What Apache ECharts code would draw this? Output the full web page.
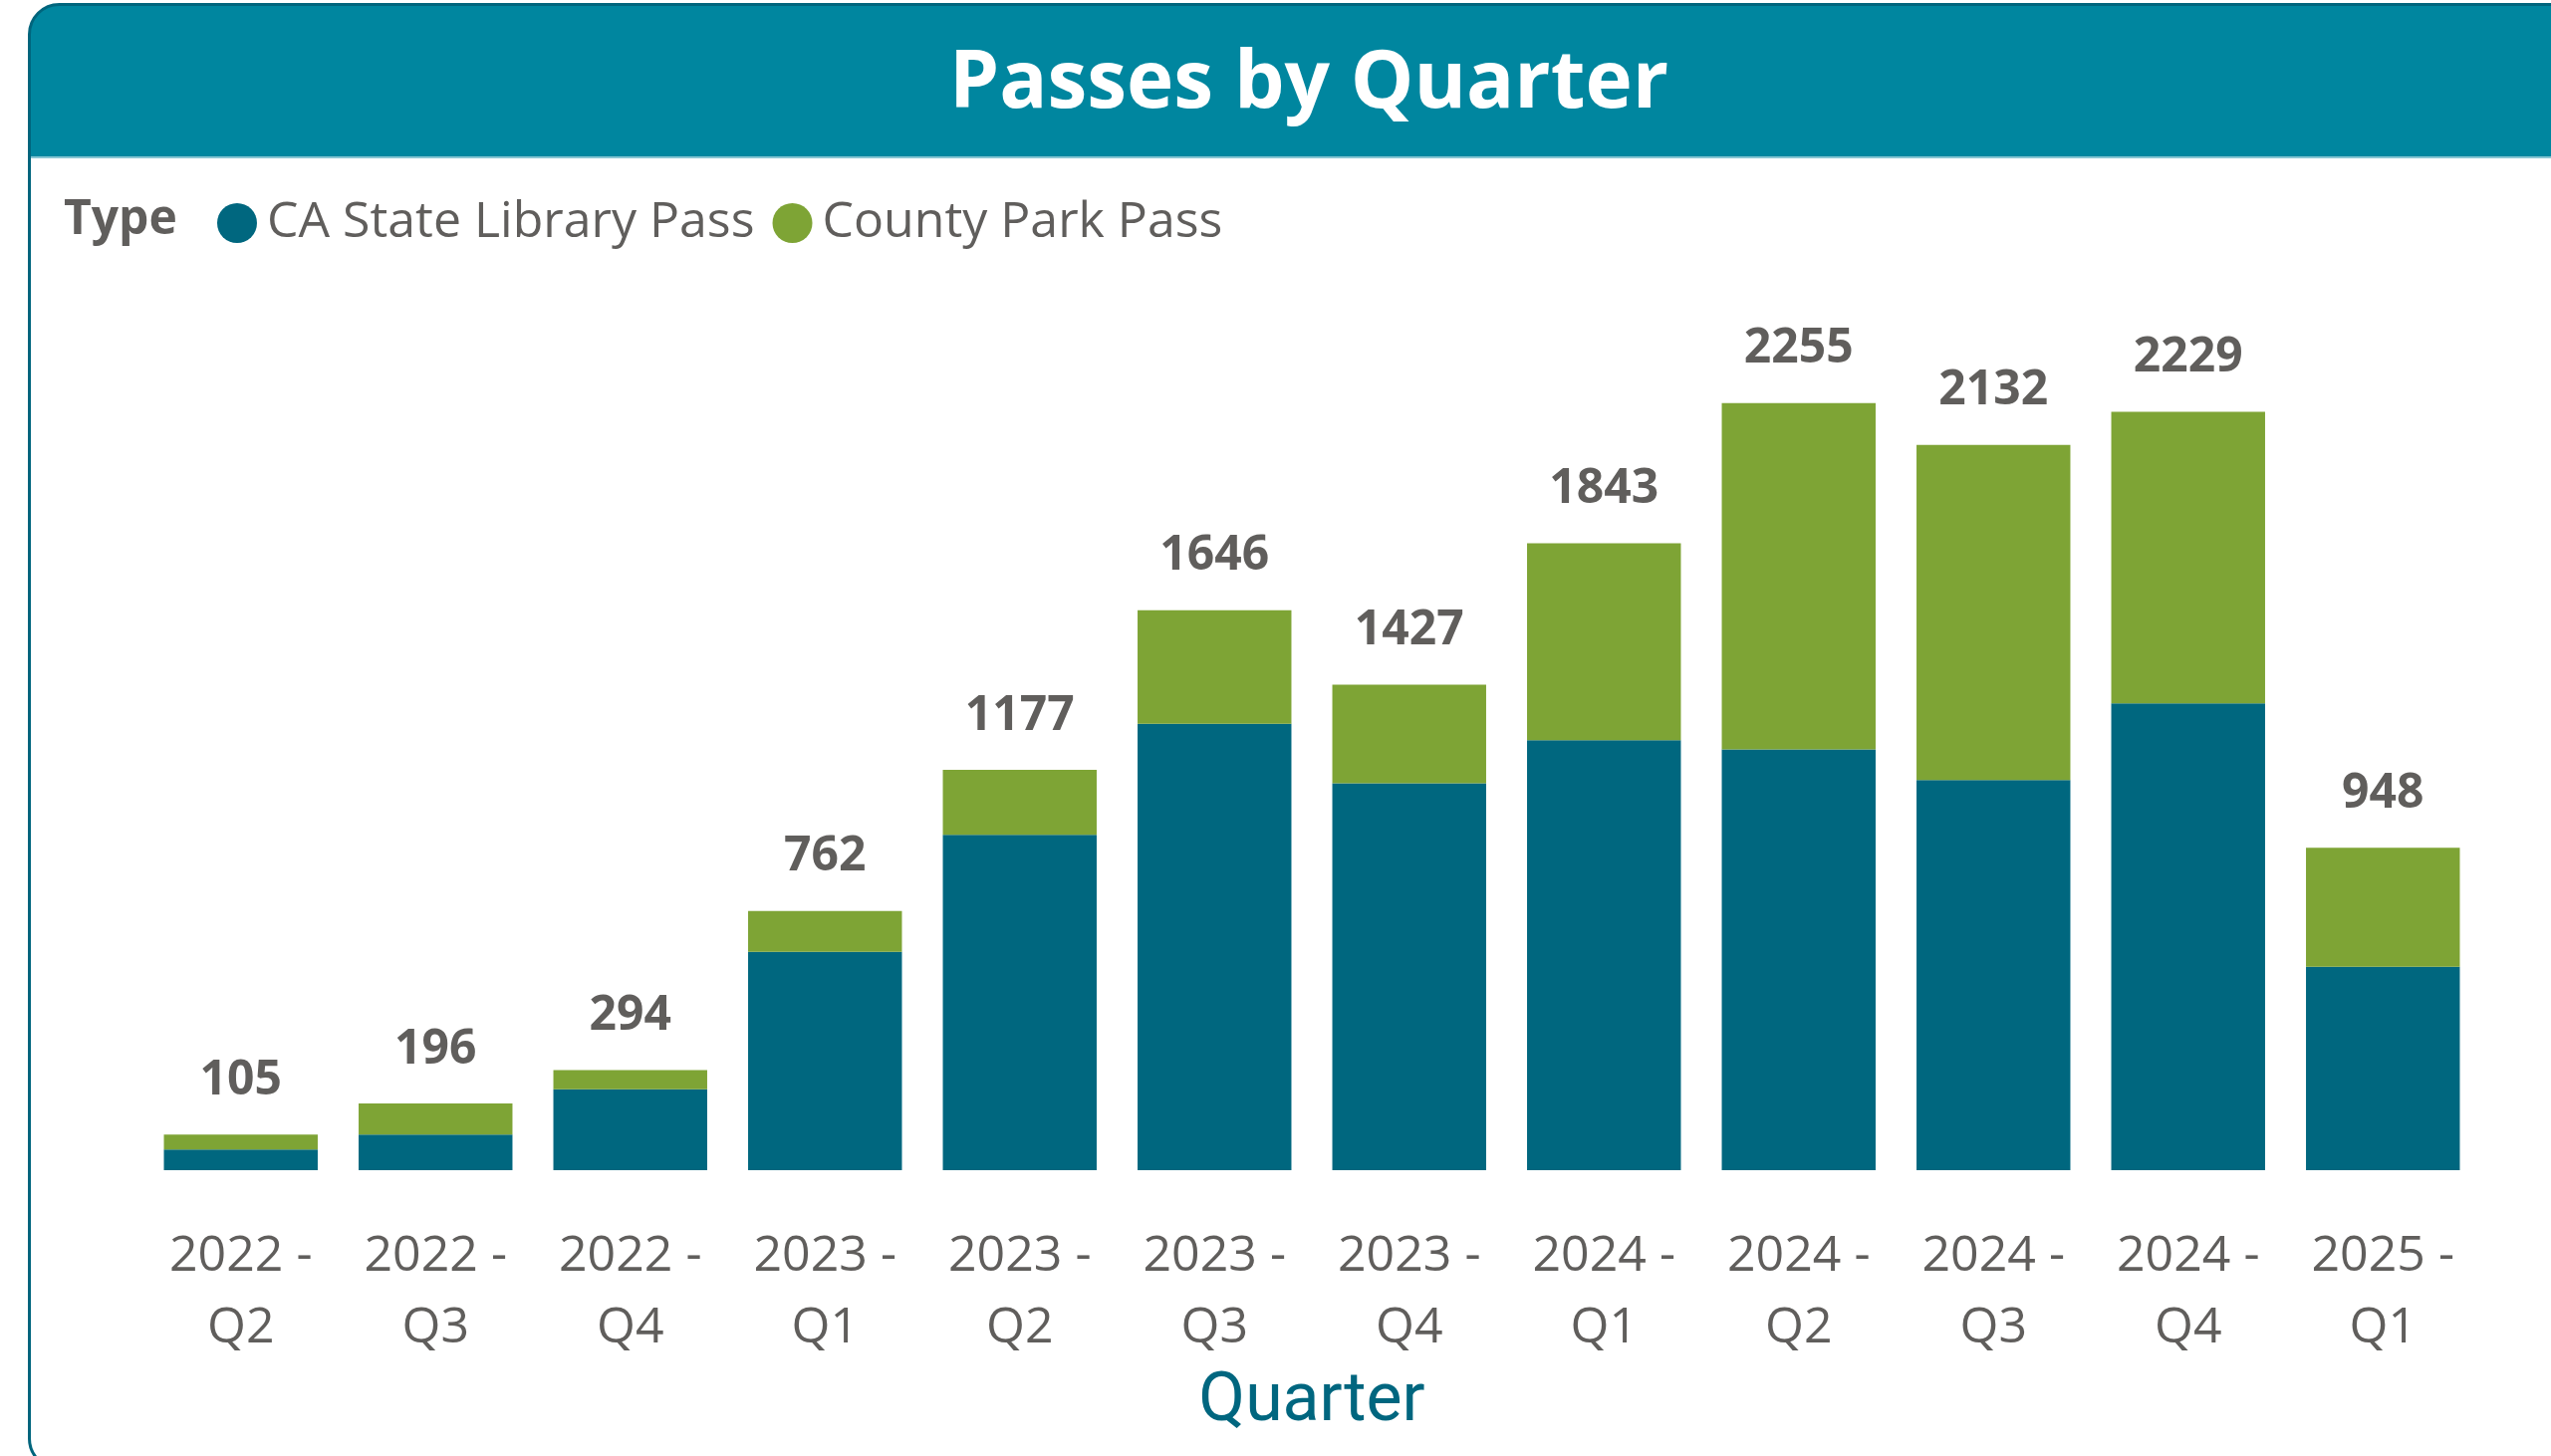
<!DOCTYPE html>
<html>
<head>
<meta charset="utf-8">
<title>Passes by Quarter</title>
<script src="https://cdn.jsdelivr.net/npm/echarts@6/dist/echarts.min.js"></script>
<style>
  html, body { margin: 0; padding: 0; background: #ffffff; overflow: hidden; }
  #main { width: 2561px; height: 1462px; }
</style>
</head>
<body>
<div id="main"></div>
<script>
// values
var quarters = ['2022 - Q2', '2022 - Q3', '2022 - Q4', '2023 - Q1', '2023 - Q2', '2023 - Q3',
                '2023 - Q4', '2024 - Q1', '2024 - Q2', '2024 - Q3', '2024 - Q4', '2025 - Q1'];
var stateLibrary = [61, 105, 238, 642, 986, 1312, 1137, 1264, 1237, 1147, 1372, 598];
var countyPark = [44, 91, 56, 120, 191, 334, 290, 579, 1018, 985, 857, 350];
var totals = [105, 196, 294, 762, 1177, 1646, 1427, 1843, 2255, 2132, 2229, 948];

var blue = '#00677F';
var green = '#7EA435';
var grey = '#605E5C';

var chart = echarts.init(document.getElementById('main'));

chart.setOption({
    animation: false,
    title: {
        text: 'Passes by Quarter',
        left: 1309,
        top: 28,
        textAlign: 'center',
        textStyle: {
            color: '#ffffff',
            fontFamily: 'Open Sans',
            fontWeight: 'bold',
            fontSize: 80,
            lineHeight: 104
        }
    },
    graphic: [
        { // card body
            type: 'rect', z: -30,
            shape: { x: 29.5, y: 4.5, width: 2600, height: 1470, r: 30 },
            style: { fill: '#ffffff' }
        },
        { // header band
            type: 'rect', z: -20,
            shape: { x: 29.5, y: 4.5, width: 2600, height: 153, r: [29, 0, 0, 0] },
            style: { fill: '#00869F' }
        },
        {
            type: 'line', z: -19,
            shape: { x1: 30, y1: 158, x2: 2561, y2: 158 },
            style: { stroke: '#86C6D3', lineWidth: 2 }
        },
        { // card outline
            type: 'rect', z: -10,
            shape: { x: 29.5, y: 4.5, width: 2600, height: 1470, r: 30 },
            style: { fill: 'none', stroke: '#00657D', lineWidth: 3 }
        },
        {
            type: 'text', z: 10,
            left: 64, top: 197,
            style: {
                text: 'Type',
                fill: grey,
                font: 'bold 48px "Open Sans"'
            }
        }
    ],
    legend: {
        left: 213,
        top: 194,
        icon: 'circle',
        itemWidth: 40,
        itemHeight: 40,
        itemGap: 18,
        textStyle: {
            color: grey,
            fontFamily: 'Open Sans',
            fontSize: 50,
            padding: [0, 0, 0, 5]
        },
        data: ['CA State Library Pass', 'County Park Pass']
    },
    grid: {
        left: 144,
        right: 71,
        top: 321,
        bottom: 287
    },
    xAxis: {
        type: 'category',
        data: quarters,
        name: 'Quarter',
        nameLocation: 'middle',
        nameGap: 194,
        nameTextStyle: {
            color: '#00667F',
            fontFamily: 'Roboto',
            fontSize: 68,
            lineHeight: 68
        },
        axisLine: { show: false },
        axisTick: { show: false },
        axisLabel: {
            color: grey,
            fontFamily: 'Open Sans',
            fontSize: 50,
            lineHeight: 72,
            margin: 51,
            interval: 0,
            formatter: function (v) { return v.replace(' - ', ' -\n'); }
        }
    },
    yAxis: {
        type: 'value',
        min: 0,
        max: 2500,
        show: false,
        splitLine: { show: false }
    },
    series: [
        {
            name: 'CA State Library Pass',
            type: 'bar',
            stack: 'passes',
            barCategoryGap: '21%',
            itemStyle: { color: blue },
            data: stateLibrary
        },
        {
            name: 'County Park Pass',
            type: 'bar',
            stack: 'passes',
            barCategoryGap: '21%',
            itemStyle: { color: green },
            label: {
                show: true,
                position: 'top',
                distance: 30,
                color: grey,
                fontFamily: 'Open Sans',
                fontWeight: 'bold',
                fontSize: 48,
                lineHeight: 48,
                formatter: function (p) { return totals[p.dataIndex]; }
            },
            data: countyPark
        }
    ]
});
</script>
</body>
</html>
